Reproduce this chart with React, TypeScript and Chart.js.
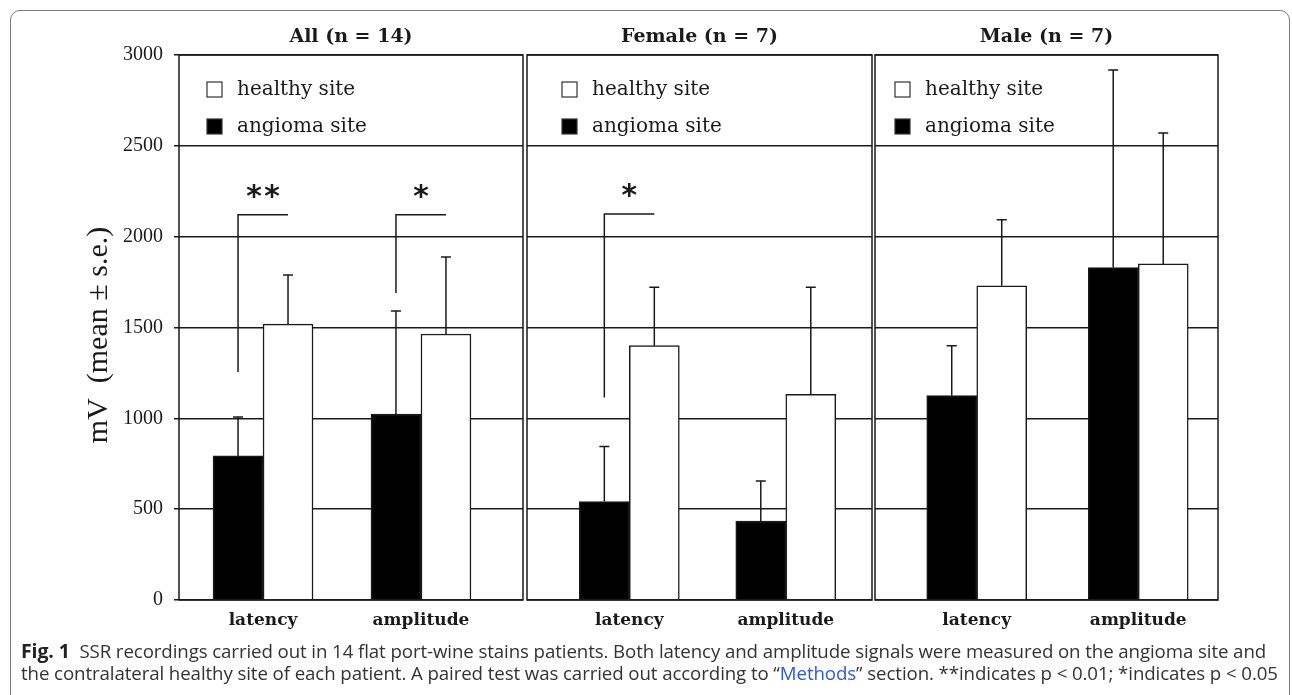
import React, { useEffect, useRef } from "react";
import { Chart, registerables } from "chart.js";

Chart.register(...registerables);

// ---------- data ----------
const categories = ["latency", "amplitude"];
const seriesLabels = ["angioma site", "healthy site"];
const panelTitles = ["All (n = 14)", "Female (n = 7)", "Male (n = 7)"];
const yAxisTitle = "mV  (mean ± s.e.)\u00a0\u00a0";

const allAngioma = [793, 1024];
const allAngiomaSE = [214, 567];
const allHealthy = [1519, 1464];
const allHealthySE = [270, 424];

const femaleAngioma = [542, 435];
const femaleAngiomaSE = [303, 220];
const femaleHealthy = [1400, 1132];
const femaleHealthySE = [322, 590];

const maleAngioma = [1125, 1830];
const maleAngiomaSE = [275, 1088];
const maleHealthy = [1730, 1850];
const maleHealthySE = [363, 720];

// significance brackets (per category): lower end, upper end, mark
const allBracketLow = [1255, 1690];
const allBracketHigh = [2120, 2120];
const allMarks = ["**", "*"];
const femaleBracketLow = [1115, null];
const femaleBracketHigh = [2125, null];
const femaleMarks = ["*", ""];
const maleBracketLow = [null, null];
const maleBracketHigh = [null, null];
const maleMarks = ["", ""];

// ---------- panel layout / style ----------
type Panel = {
  title: string;
  angioma: number[];
  angiomaSE: number[];
  healthy: number[];
  healthySE: number[];
  bLow: (number | null)[];
  bHigh: (number | null)[];
  marks: string[];
  left: number;
  width: number;
  yAxisWidth: number;
  padLeft: number;
  xMin: number;
  xMax: number;
  legendX: number;
  showY: boolean;
};

const panels: Panel[] = [
  {
    title: panelTitles[0], angioma: allAngioma, angiomaSE: allAngiomaSE, healthy: allHealthy, healthySE: allHealthySE,
    bLow: allBracketLow, bHigh: allBracketHigh, marks: allMarks,
    left: 60, width: 465, yAxisWidth: 119, padLeft: 0, xMin: 0.468, xMax: 2.646, legendX: 28, showY: true,
  },
  {
    title: panelTitles[1], angioma: femaleAngioma, angiomaSE: femaleAngiomaSE, healthy: femaleHealthy, healthySE: femaleHealthySE,
    bLow: femaleBracketLow, bHigh: femaleBracketHigh, marks: femaleMarks,
    left: 525, width: 349, yAxisWidth: 0, padLeft: 2, xMin: 0.346, xMax: 2.551, legendX: 35, showY: false,
  },
  {
    title: panelTitles[2], angioma: maleAngioma, angiomaSE: maleAngiomaSE, healthy: maleHealthy, healthySE: maleHealthySE,
    bLow: maleBracketLow, bHigh: maleBracketHigh, marks: maleMarks,
    left: 873, width: 347, yAxisWidth: 0, padLeft: 2, xMin: 0.37, xMax: 2.494, legendX: 20, showY: false,
  },
];

const CANVAS_TOP = 15;
const CANVAS_H = 625;
const INK = "#1a1a1a";

function overlayPlugin(p: Panel) {
  return {
    id: "overlay",
    afterDatasetsDraw(chart: any) {
      const ctx = chart.ctx;
      const ys = chart.scales.y;
      const ses = [p.angiomaSE, p.healthySE];
      const vals = [p.angioma, p.healthy];
      ctx.save();
      ctx.strokeStyle = INK;
      ctx.lineWidth = 1.5;
      // error bars
      for (let d = 0; d < 2; d++) {
        const meta = chart.getDatasetMeta(d);
        meta.data.forEach((el: any, i: number) => {
          const top = ys.getPixelForValue(vals[d][i] + ses[d][i]);
          ctx.beginPath();
          ctx.moveTo(el.x, el.y);
          ctx.lineTo(el.x, top);
          ctx.moveTo(el.x - 5, top);
          ctx.lineTo(el.x + 5, top);
          ctx.stroke();
        });
      }
      // significance brackets
      const m0 = chart.getDatasetMeta(0);
      const m1 = chart.getDatasetMeta(1);
      for (let i = 0; i < categories.length; i++) {
        const lo = p.bLow[i];
        const hi = p.bHigh[i];
        if (lo == null || hi == null) continue;
        const x0 = m0.data[i].x;
        const x1 = m1.data[i].x;
        const yl = ys.getPixelForValue(lo);
        const yh = ys.getPixelForValue(hi);
        ctx.beginPath();
        ctx.moveTo(x0, yl);
        ctx.lineTo(x0, yh);
        ctx.lineTo(x1, yh);
        ctx.stroke();
        ctx.fillStyle = INK;
        ctx.font = 'bold 30px "DejaVu Sans Mono"';
        ctx.textAlign = "center";
        ctx.textBaseline = "alphabetic";
        const mt = ctx.measureText(p.marks[i]);
        const cy = yh - 23;
        ctx.fillText(p.marks[i], (x0 + x1) / 2, cy + (mt.actualBoundingBoxAscent - mt.actualBoundingBoxDescent) / 2);
      }
      ctx.restore();
    },
    afterDraw(chart: any) {
      const ctx = chart.ctx;
      const a = chart.chartArea;
      ctx.save();
      // panel border
      ctx.strokeStyle = INK;
      ctx.lineWidth = 1.5;
      ctx.strokeRect(a.left, a.top, a.right - a.left, a.bottom - a.top);
      // legend (healthy first, then angioma)
      const order = [1, 0];
      order.forEach((d, k) => {
        const ds = chart.data.datasets[d];
        const bx = a.left + p.legendX;
        const by = a.top + 27 + k * 37;
        ctx.fillStyle = ds.backgroundColor;
        ctx.fillRect(bx, by, 15, 15);
        ctx.lineWidth = 1.2;
        ctx.strokeStyle = "#333";
        ctx.strokeRect(bx, by, 15, 15);
        ctx.fillStyle = INK;
        ctx.font = '20px "DejaVu Serif"';
        ctx.textAlign = "left";
        ctx.textBaseline = "middle";
        ctx.fillText(ds.label, bx + 30, by + 8);
      });
      ctx.restore();
    },
  };
}

function PanelChart({ p }: { p: Panel }) {
  const ref = useRef<HTMLCanvasElement | null>(null);
  useEffect(() => {
    if (!ref.current) return;
    const chart = new Chart(ref.current, {
      type: "bar",
      data: {
        datasets: [
          {
            label: seriesLabels[0],
            data: categories.map((_, i) => ({ x: i + 1, y: p.angioma[i] })),
            backgroundColor: "#000000",
            borderColor: INK,
            borderWidth: 1.5,
            barThickness: 50,
          },
          {
            label: seriesLabels[1],
            data: categories.map((_, i) => ({ x: i + 1, y: p.healthy[i] })),
            backgroundColor: "#ffffff",
            borderColor: INK,
            borderWidth: 1.5,
            barThickness: 50,
          },
        ],
      } as any,
      options: {
        responsive: false,
        animation: false,
        layout: { padding: { left: p.padLeft, right: 2, top: 0, bottom: 0 } },
        plugins: {
          legend: { display: false },
          tooltip: { enabled: false },
          title: {
            display: true,
            text: p.title,
            fullSize: false,
            color: INK,
            font: { family: "DejaVu Serif", size: 19, weight: "bold" },
            padding: { top: 11, bottom: 6.2 },
          },
        },
        scales: {
          x: {
            type: "linear",
            min: p.xMin,
            max: p.xMax,
            offset: false,
            grid: { display: false, drawTicks: false },
            border: { display: false },
            afterBuildTicks: (s: any) => {
              s.ticks = categories.map((_, i) => ({ value: i + 1 }));
            },
            afterFit: (s: any) => {
              s.height = 40;
            },
            ticks: {
              autoSkip: false,
              maxRotation: 0,
              padding: 10,
              color: INK,
              font: { family: "DejaVu Serif", size: 17, weight: "bold" },
              callback: (v: any) => categories[Math.round(Number(v)) - 1] ?? "",
            },
          },
          y: {
            type: "linear",
            min: 0,
            max: 3000,
            border: { display: false },
            grid: {
              color: INK,
              lineWidth: 1.5,
              drawTicks: p.showY,
              tickLength: 5,
            },
            afterFit: (s: any) => {
              s.width = p.yAxisWidth;
            },
            ticks: {
              display: p.showY,
              stepSize: 500,
              padding: 11,
              color: INK,
              font: { family: "Liberation Serif", size: 20 },
              callback: (v: any) => String(v),
            },
            title: {
              display: p.showY,
              text: yAxisTitle,
              color: INK,
              font: { family: "Liberation Serif", size: 30 },
              padding: { top: 21, bottom: 0 },
            },
          },
        },
      } as any,
      plugins: [overlayPlugin(p)],
    });
    return () => chart.destroy();
  }, [p]);
  return (
    <div style={{ position: "absolute", left: p.left, top: CANVAS_TOP, width: p.width, height: CANVAS_H }}>
      <canvas ref={ref} width={p.width} height={CANVAS_H} style={{ display: "block", width: p.width, height: CANVAS_H }} />
    </div>
  );
}

export default function App() {
  return (
    <div
      style={{
        position: "fixed",
        left: 0,
        top: 0,
        width: 1292,
        height: 695,
        background: "#ffffff",
        overflow: "hidden",
      }}
    >
      <div
        style={{
          position: "absolute",
          left: 10,
          top: 10,
          width: 1280,
          height: 740,
          border: "1px solid #7a7a7a",
          borderRadius: 10,
          boxSizing: "border-box",
        }}
      />
      {panels.map((p, i) => (
        <PanelChart key={i} p={p} />
      ))}
      <div
        style={{
          position: "absolute",
          left: 21,
          top: 640,
          fontFamily: '"Open Sans", sans-serif',
          fontSize: 18.7,
          lineHeight: "22px",
          letterSpacing: "-0.1px",
          color: "#333333",
          whiteSpace: "nowrap",
        }}
      >
        <div>
          <b style={{ color: "#222", fontSize: 19.5 }}>Fig. 1</b>
          <span>{"\u00a0\u00a0"}SSR recordings carried out in 14 flat port-wine stains patients. Both latency and amplitude signals were measured on the angioma site and</span>
        </div>
        <div>
          the contralateral healthy site of each patient. A paired test was carried out according to “
          <span style={{ color: "#2f5ad6" }}>Methods</span>” section. **indicates p &lt; 0.01; *indicates p &lt; 0.05
        </div>
      </div>
    </div>
  );
}
